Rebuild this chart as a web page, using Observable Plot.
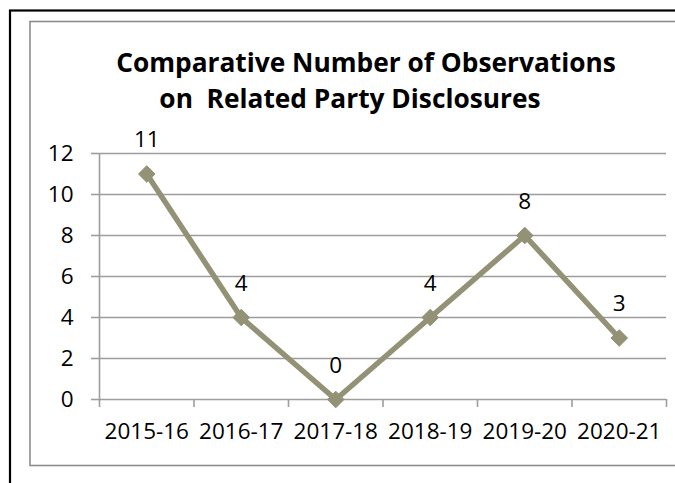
<!DOCTYPE html>
<html>
<head>
<meta charset="utf-8">
<script src="https://cdn.jsdelivr.net/npm/d3@7"></script>
<script src="https://cdn.jsdelivr.net/npm/@observablehq/plot@0.6"></script>
<style>
  html, body { margin: 0; padding: 0; background: #fff; }
  #chart { width: 675px; height: 483px; }
</style>
</head>
<body>
<div id="chart"></div>
<script>
// Financial years and number of observations on related party disclosures
const years = ["2015-16", "2016-17", "2017-18", "2018-19", "2019-20", "2020-21"];
const observations = [11, 4, 0, 4, 8, 3];
const yTicks = [0, 2, 4, 6, 8, 10, 12];
const titleLines = ["Comparative Number of Observations", "on  Related Party Disclosures"];

const font = "'Open Sans', 'DejaVu Sans', sans-serif";
const lineColor = "#939277";
const gridColor = "#9d9d9d";
const labelSize = 22.5;

// category i sits in the middle of the slot [i, i+1]
const rows = years.map((year, i) => ({year, pos: i + 0.5, value: observations[i]}));
const edges = d3.range(years.length + 1);

const plot = Plot.plot({
  width: 675,
  height: 483,
  marginLeft: 99,
  marginRight: 9,
  marginTop: 153,
  marginBottom: 84,
  style: {fontFamily: font, fontSize: labelSize + "px", background: "white", overflow: "visible"},
  x: {type: "linear", domain: [0, years.length]},
  y: {domain: [0, 12]},
  marks: [
    Plot.gridY(yTicks, {stroke: gridColor, strokeOpacity: 1, strokeWidth: 1.6}),
    Plot.axisY(yTicks, {
      tickSize: 8, tickPadding: 18, stroke: gridColor, strokeOpacity: 1, strokeWidth: 1.6,
      fontSize: labelSize, fill: "#000", label: null
    }),
    Plot.ruleX([0], {stroke: gridColor, strokeWidth: 1.6}),
    Plot.axisX(edges, {
      tickSize: 8, stroke: gridColor, strokeOpacity: 1, strokeWidth: 1.6,
      tickFormat: () => "", label: null
    }),
    Plot.axisX(rows.map(d => d.pos), {
      tickSize: 0, tickPadding: 24, fontSize: labelSize, fill: "#000",
      tickFormat: v => years[Math.round(v - 0.5)], label: null
    }),
    Plot.line(rows, {x: "pos", y: "value", stroke: lineColor, strokeWidth: 5.5}),
    Plot.dot(rows, {x: "pos", y: "value", symbol: "diamond2", r: 7.5, fill: lineColor, stroke: lineColor, strokeWidth: 1}),
    Plot.text(rows, {
      x: "pos", y: "value", text: d => String(d.value), dy: -27, lineAnchor: "bottom",
      fontSize: labelSize, fill: "#000"
    })
  ]
});

const svg = d3.select(plot);

// chart area borders: outer black frame, inner grey frame
svg.insert("rect", ":first-child")
  .attr("x", 10).attr("y", 10.5).attr("width", 700).attr("height", 500)
  .attr("fill", "none").attr("stroke", "#000").attr("stroke-width", 2.2);
svg.insert("rect", ":first-child")
  .attr("x", 30).attr("y", 21.5).attr("width", 680).attr("height", 444)
  .attr("fill", "none").attr("stroke", "#8c8c8c").attr("stroke-width", 1.6);

// two-line bold title
const title = svg.append("text")
  .attr("font-family", font)
  .attr("font-weight", "bold")
  .attr("font-size", 26.3)
  .attr("fill", "#000")
  .attr("text-anchor", "middle")
  .style("white-space", "pre");
title.append("tspan").attr("x", 366).attr("y", 72).text(titleLines[0]);
title.append("tspan").attr("x", 350).attr("y", 108).text(titleLines[1]);

document.getElementById("chart").appendChild(plot);
</script>
</body>
</html>
